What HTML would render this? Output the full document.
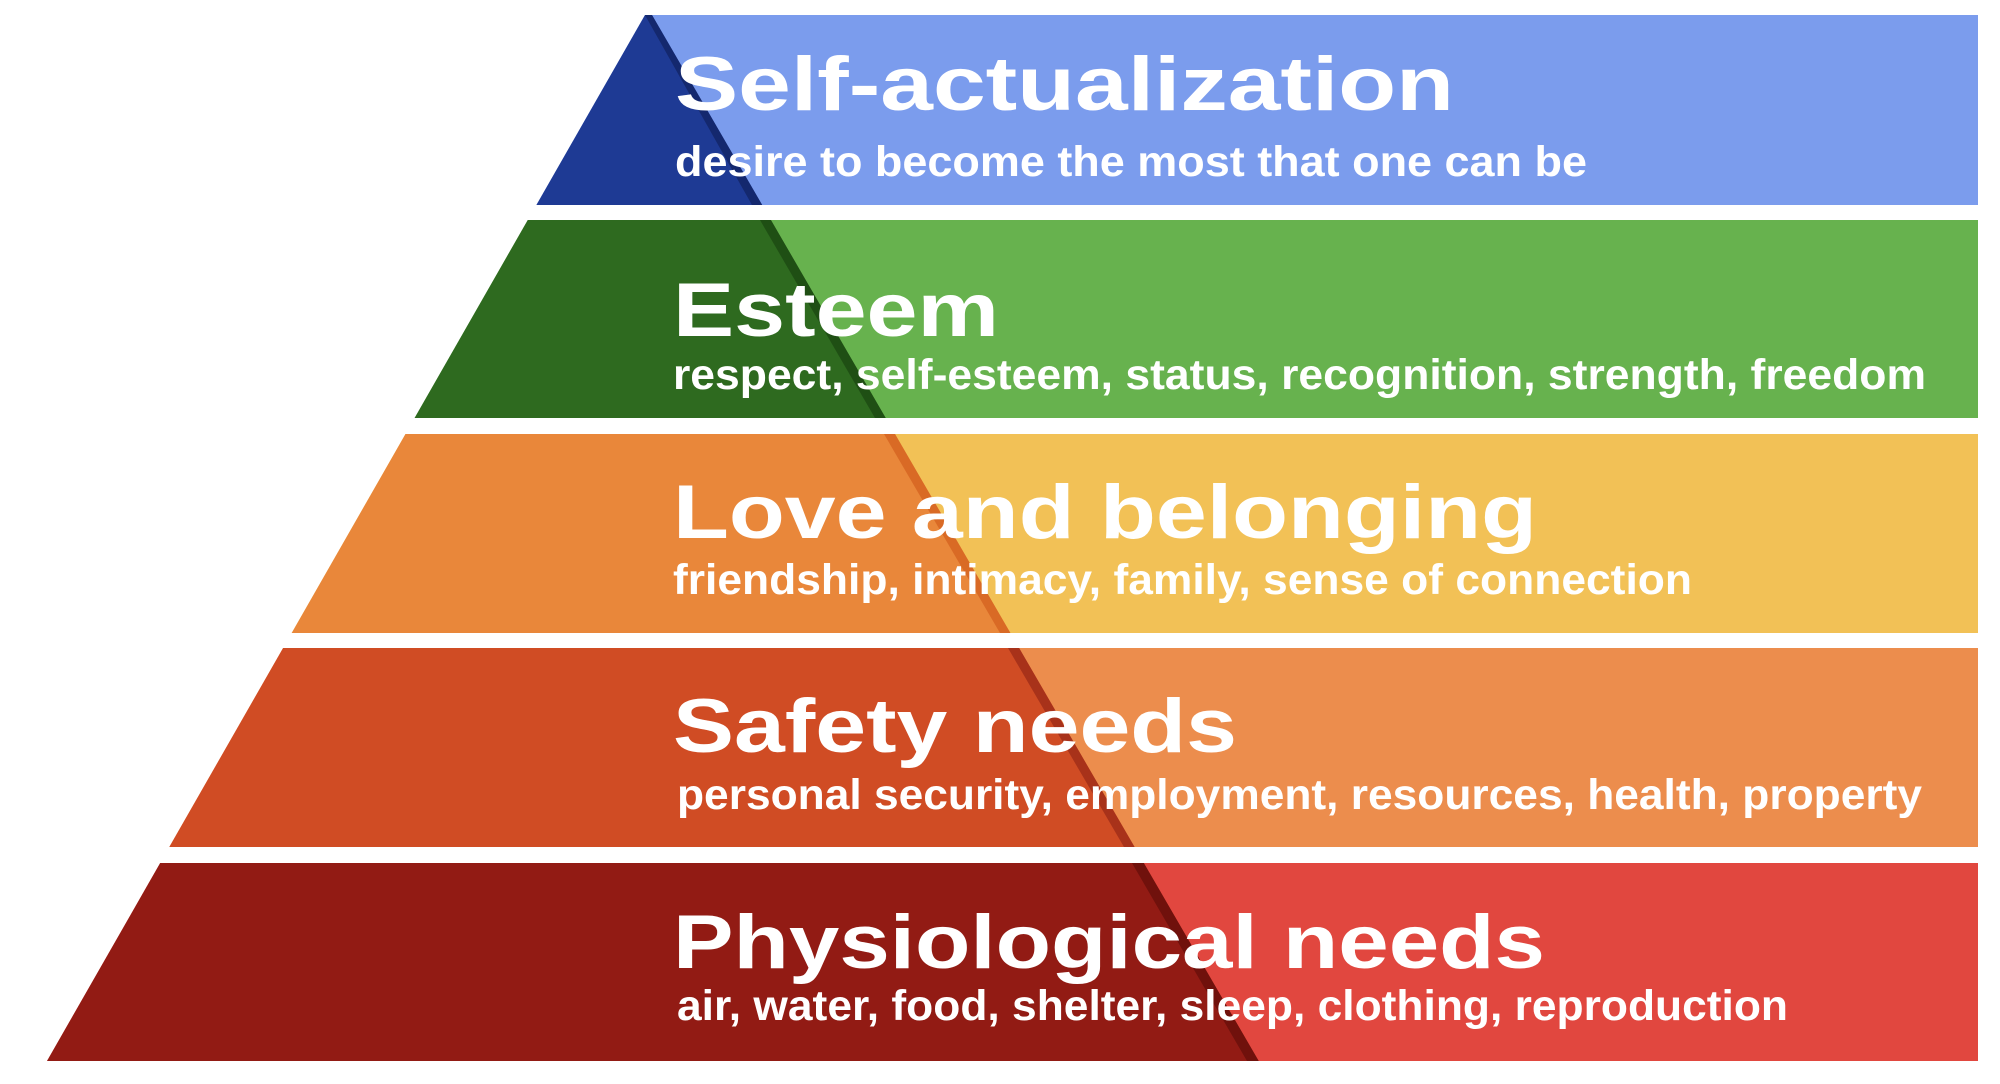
<!DOCTYPE html>
<html><head><meta charset="utf-8"><style>
html,body{margin:0;padding:0;background:#fff;width:2000px;height:1084px;overflow:hidden}
svg{display:block}
.t{font-family:"Liberation Sans",sans-serif;font-weight:bold;fill:#fff;font-size:76px}
.s{font-family:"Liberation Sans",sans-serif;font-weight:bold;fill:#fff;font-size:43px}
</style></head><body>
<svg width="2000" height="1084" viewBox="0 0 2000 1084" xmlns="http://www.w3.org/2000/svg">
<rect width="2000" height="1084" fill="#fff"/>
<polygon points="645,15 1978,15 1978,205 536.4,205" fill="#7b9ced"/>
<polygon points="645,15 652,15 762.2,205 536.4,205" fill="#1e3a94"/>
<polygon points="645,15 652,15 762.2,205 752,205" fill="#14286e"/>
<polygon points="527.8,220 1978,220 1978,418 414.6,418" fill="#67b24e"/>
<polygon points="527.8,220 770.9,220 885.7,418 414.6,418" fill="#2e6a1f"/>
<polygon points="760,220 770.9,220 885.7,418 875,418" fill="#1f4f14"/>
<polygon points="405.5,434 1978,434 1978,633 291.7,633" fill="#f2c156"/>
<polygon points="405.5,434 895,434 1010.4,633 291.7,633" fill="#e9873a"/>
<polygon points="884,434 895,434 1010.4,633 1000,633" fill="#d96a25"/>
<polygon points="283.1,648 1978,648 1978,847 169.3,847" fill="#ec8d4d"/>
<polygon points="283.1,648 1019.1,648 1134.6,847 169.3,847" fill="#d04c24"/>
<polygon points="1008,648 1019.1,648 1134.6,847 1124,847" fill="#a8321a"/>
<polygon points="160.2,863 1978,863 1978,1061 47,1061" fill="#e1473f"/>
<polygon points="160.2,863 1143.8,863 1258.7,1061 47,1061" fill="#921b14"/>
<polygon points="1132,863 1143.8,863 1258.7,1061 1247,1061" fill="#70110c"/>

<text class="t" x="675" y="110" textLength="779" lengthAdjust="spacingAndGlyphs">Self-actualization</text>
<text class="s" x="675" y="176" textLength="912" lengthAdjust="spacingAndGlyphs">desire to become the most that one can be</text>

<text class="t" x="673" y="336" textLength="326" lengthAdjust="spacingAndGlyphs">Esteem</text>
<text class="s" x="673" y="389" textLength="1253" lengthAdjust="spacingAndGlyphs">respect, self-esteem, status, recognition, strength, freedom</text>

<text class="t" x="673" y="538" textLength="864" lengthAdjust="spacingAndGlyphs">Love and belonging</text>
<text class="s" x="673" y="594" textLength="1019" lengthAdjust="spacingAndGlyphs">friendship, intimacy, family, sense of connection</text>

<text class="t" x="673" y="752" textLength="564" lengthAdjust="spacingAndGlyphs">Safety needs</text>
<text class="s" x="677" y="809" textLength="1245" lengthAdjust="spacingAndGlyphs">personal security, employment, resources, health, property</text>

<text class="t" x="673" y="968" textLength="872" lengthAdjust="spacingAndGlyphs">Physiological needs</text>
<text class="s" x="677" y="1020" textLength="1111" lengthAdjust="spacingAndGlyphs">air, water, food, shelter, sleep, clothing, reproduction</text>
</svg>
</body></html>
